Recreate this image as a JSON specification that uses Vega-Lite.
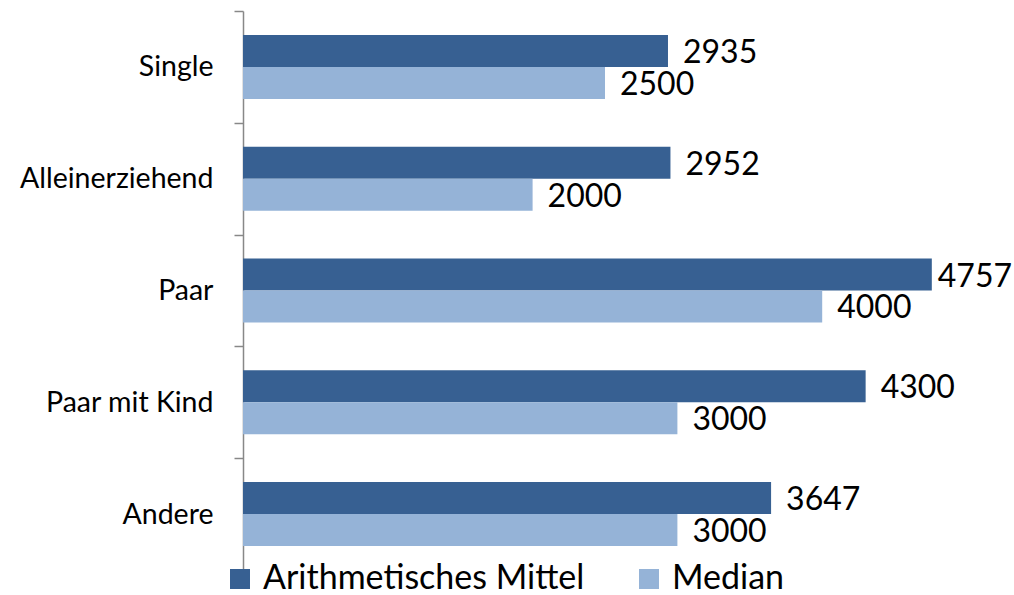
{
  "$schema": "https://vega.github.io/schema/vega-lite/v6.json",
  "autosize": "none",
  "width": 724,
  "height": 559,
  "padding": {"left": 243, "top": 11, "right": 47, "bottom": 25},
  "background": "white",
  "config": {"view": {"stroke": null}, "font": "Lato"},
  "data": {"values": [
    {"cat": "Single", "series": "Arithmetisches Mittel", "value": 2935},
    {"cat": "Single", "series": "Median", "value": 2500},
    {"cat": "Alleinerziehend", "series": "Arithmetisches Mittel", "value": 2952},
    {"cat": "Alleinerziehend", "series": "Median", "value": 2000},
    {"cat": "Paar", "series": "Arithmetisches Mittel", "value": 4757},
    {"cat": "Paar", "series": "Median", "value": 4000},
    {"cat": "Paar mit Kind", "series": "Arithmetisches Mittel", "value": 4300},
    {"cat": "Paar mit Kind", "series": "Median", "value": 3000},
    {"cat": "Andere", "series": "Arithmetisches Mittel", "value": 3647},
    {"cat": "Andere", "series": "Median", "value": 3000}
  ]},
  "encoding": {
    "y": {
      "field": "cat", "type": "nominal",
      "sort": ["Single", "Alleinerziehend", "Paar", "Paar mit Kind", "Andere"],
      "scale": {"paddingInner": 0, "paddingOuter": 0},
      "axis": {
        "title": null, "tickBand": "extent", "domainColor": "#888888", "domainWidth": 1.5,
        "tickColor": "#888888", "tickWidth": 1.5, "tickSize": 9,
        "labelFontSize": 28.5, "labelColor": "#000000", "labelPadding": 21, "labelFont": "Lato", "labelLimit": 0
      }
    },
    "yOffset": {
      "field": "series", "type": "nominal",
      "sort": ["Arithmetisches Mittel", "Median"],
      "scale": {"paddingInner": 0, "paddingOuter": 0.747}
    },
    "x": {
      "field": "value", "type": "quantitative",
      "scale": {"domain": [0, 5000], "nice": false},
      "axis": null
    }
  },
  "layer": [
    {
      "mark": {"type": "bar"},
      "encoding": {
        "color": {
          "field": "series", "type": "nominal",
          "scale": {"domain": ["Arithmetisches Mittel", "Median"], "range": ["#376092", "#95B3D7"]},
          "legend": {
            "title": null, "orient": "none", "legendX": -20, "legendY": 551,
            "direction": "horizontal", "columns": 2, "columnPadding": 47,
            "symbolType": "square", "symbolSize": 400, "symbolStrokeWidth": 0,
            "labelFontSize": 34, "labelFont": "Lato", "labelColor": "#000000", "labelOffset": 6, "labelLimit": 0
          }
        }
      }
    },
    {
      "transform": [{"filter": "datum.value < 4500"}],
      "mark": {"type": "text", "align": "left", "baseline": "middle", "dx": 15, "dy": 2, "fontSize": 32, "font": "Lato", "color": "#000000"},
      "encoding": {"text": {"field": "value", "type": "quantitative", "format": "d"}}
    },
    {
      "transform": [{"filter": "datum.value >= 4500"}],
      "mark": {"type": "text", "align": "left", "baseline": "middle", "dx": 6, "dy": 2, "fontSize": 32, "font": "Lato", "color": "#000000"},
      "encoding": {"text": {"field": "value", "type": "quantitative", "format": "d"}}
    }
  ]
}
